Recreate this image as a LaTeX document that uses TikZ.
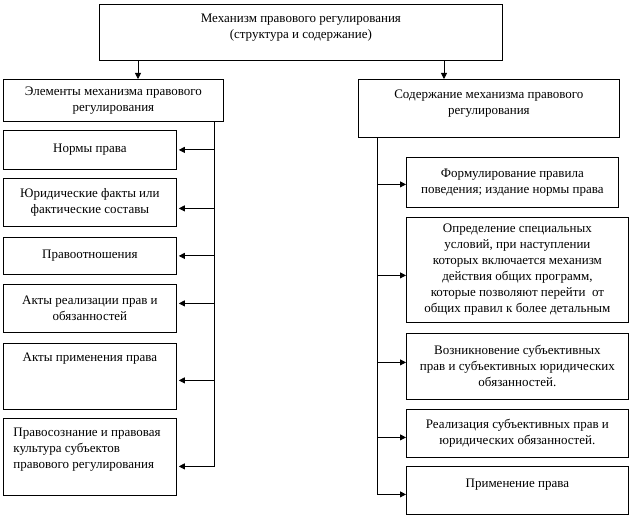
\documentclass[tikz,border=0pt]{standalone}
\usepackage{fontspec}
\setmainfont{Liberation Serif}
\usetikzlibrary{arrows.meta,positioning}

\begin{document}
\begin{tikzpicture}[x=1pt,y=-1pt,>={Triangle[length=6pt,width=6pt]},line width=0.8pt]

  \tikzstyle{box}=[draw,rectangle,anchor=north west,inner sep=0pt,
                   align=center,font=\fontsize{13}{16}\selectfont]
  \tikzstyle{left box}=[box,minimum width=173pt]
  \tikzstyle{right box}=[box,minimum width=222pt]
  \tikzstyle{inlabel}=[anchor=north,align=center,inner sep=0pt,yshift=-10pt,
                       font=\fontsize{13}{16}\selectfont]

  \useasboundingbox (0,0) rectangle (630,518);

  % top
  \node [box,minimum width=403pt,minimum height=56pt,
         label={[inlabel]north:{Механизм правового регулирования\\(структура и содержание)}}]
        (mech) at (99,4) {};
  \node [box,minimum width=220pt,minimum height=42pt] (elem) at (3,79)
        {Элементы механизма правового\\регулирования};
  \node [box,minimum width=261pt,minimum height=58pt,
         label={[inlabel]north:{Содержание механизма правового\\регулирования}}]
        (cont) at (358,79) {};

  % elements
  \node [left box,minimum height=39pt] (norm) at (3,130) {Нормы права};
  \node [left box,minimum height=48pt] (fact) at (3,178)
        {Юридические факты или\\фактические составы};
  \node [left box,minimum height=37pt] (rel) at (3,237) {Правоотношения};
  \node [left box,minimum height=48pt] (act) at (3,284)
        {Акты реализации прав и\\обязанностей};
  \node [left box,minimum height=66pt,
         label={[inlabel]north:{Акты применения права}}] (appl) at (3,343) {};
  \node [left box,minimum height=77pt,
         label={[inlabel,anchor=north west,align=left,xshift=10pt]north west:{Правосознание и правовая\\культура субъектов\\правового регулирования}}]
        (cult) at (3,418) {};

  % content
  \node [box,minimum width=212pt,minimum height=50pt] (form) at (406,157)
        {Формулирование правила\\поведения; издание нормы права};
  \node [right box,minimum height=105pt] (spec) at (406,217)
        {Определение специальных\\условий, при наступлении\\которых включается механизм\\действия общих программ,\\которые позволяют перейти~ от\\общих правил к более детальным};
  \node [right box,minimum height=66pt] (subj) at (406,333)
        {Возникновение субъективных\\прав и субъективных юридических\\обязанностей.};
  \node [right box,minimum height=48pt] (real) at (406,409)
        {Реализация субъективных прав и\\юридических обязанностей.};
  \node [right box,minimum height=48pt,
         label={[inlabel,yshift=-3pt]north:{Применение права}}] (appr) at (406,466) {};

  % connectors
  \coordinate (ta) at ([xshift=39pt]mech.south west);
  \coordinate (tb) at ([xshift=345pt]mech.south west);
  \draw [->] (ta) -- (ta |- elem.north);
  \draw [->] (tb) -- (tb |- cont.north);

  \coordinate (lbus) at ([xshift=-9pt]elem.south east);
  \coordinate (rbus) at ([xshift=19pt]cont.south west);

  \foreach \n/\dy in {norm/0pt,fact/-6pt,rel/0pt,act/5pt,appl/-4pt}
    \draw [->,shorten >=2pt] ([yshift=\dy]\n.east -| lbus) -- ([yshift=\dy]\n.east);
  \draw [->,shorten >=2pt] (lbus) |- ([yshift=-9.5pt]cult.east);

  \foreach \n/\dy in {form/-2pt,spec/-5.5pt,subj/4pt,real/-4pt}
    \draw [->] ([yshift=\dy]\n.west -| rbus) -- ([yshift=\dy]\n.west);
  \draw [->] (rbus) |- ([yshift=-4pt]appr.west);

\end{tikzpicture}
\end{document}
